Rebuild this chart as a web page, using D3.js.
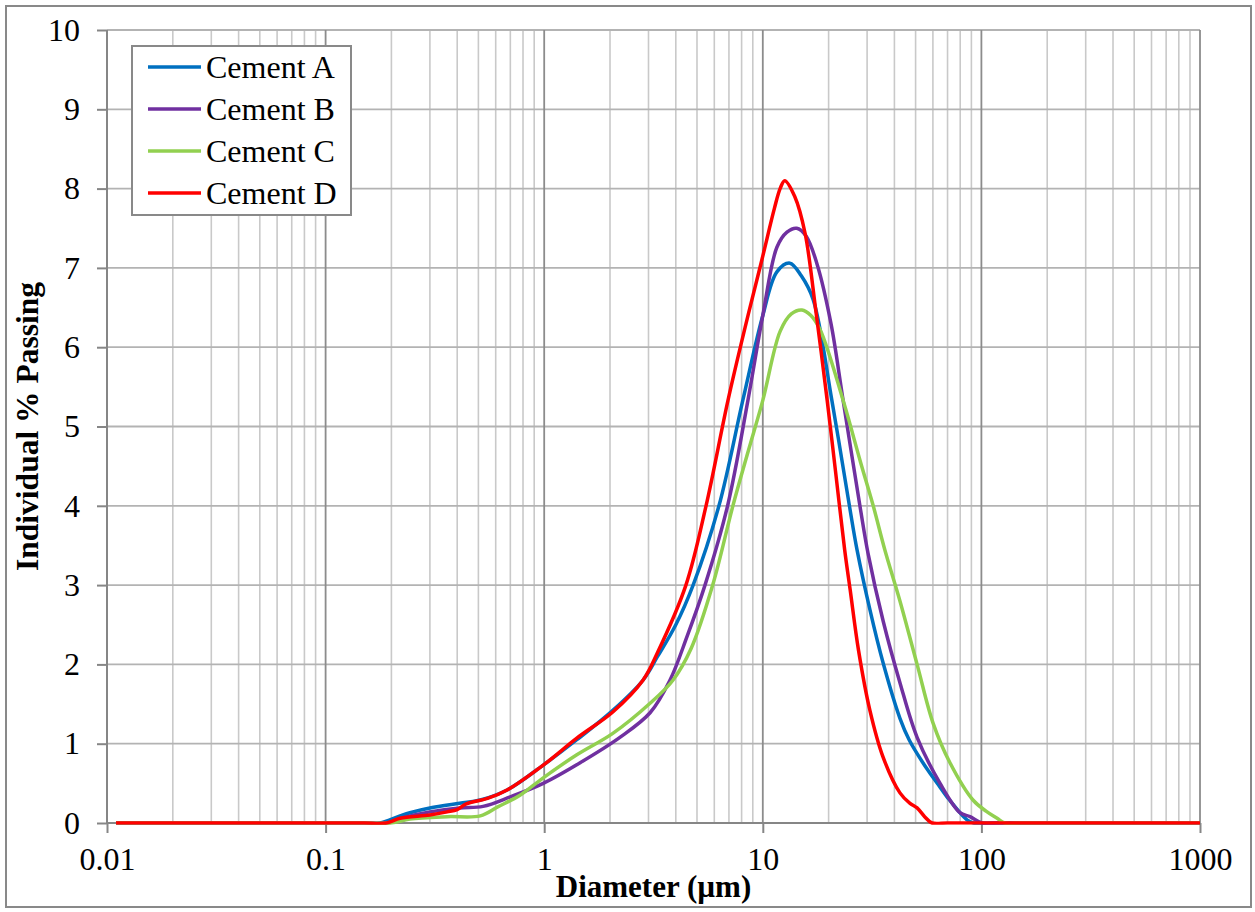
<!DOCTYPE html>
<html><head><meta charset="utf-8">
<script src="https://cdn.jsdelivr.net/npm/d3@7"></script>
<style>body{margin:0;background:#fff}svg{display:block}</style>
</head><body>
<svg id="c" width="1255" height="912"></svg>
<script>
// ---- data ----
const seriesNames = ["Cement A", "Cement B", "Cement C", "Cement D"];
const seriesColors = ["#0070C0", "#7030A0", "#92D050", "#FF0000"];

const diamA = [0.011, 0.02, 0.05, 0.1, 0.15, 0.177, 0.219, 0.243, 0.30, 0.41, 0.51, 0.68, 0.99, 1.41, 2.06, 2.83, 3.3, 4.0, 4.8, 6.3, 8.1, 10.0, 11.6, 13.3, 15.0, 17.0, 20.7, 24.9, 27.0, 30.9, 35.5, 42.4, 46.7, 54.0, 62.8, 69.6, 85.9, 92, 110, 200, 500, 1000];
const valA  = [0, 0, 0, 0, 0, 0, 0.09, 0.13, 0.19, 0.25, 0.29, 0.42, 0.73, 1.05, 1.42, 1.8, 2.1, 2.5, 3.0, 4.0, 5.33, 6.4, 6.95, 7.06, 6.9, 6.6, 5.33, 4.0, 3.44, 2.69, 2.02, 1.32, 1.05, 0.76, 0.5, 0.33, 0.04, 0, 0, 0, 0, 0];

const diamB = [0.011, 0.02, 0.05, 0.1, 0.15, 0.19, 0.236, 0.30, 0.41, 0.525, 0.70, 0.99, 1.46, 2.22, 3.05, 3.76, 4.5, 5.44, 6.9, 8.55, 10.0, 11.6, 12.9, 14.3, 15.8, 17.7, 20.5, 23.3, 28.0, 30.3, 35.5, 42.4, 50.8, 64.7, 79.8, 88.7, 100.6, 120, 200, 500, 1000];
const valB  = [0, 0, 0, 0, 0, 0, 0.08, 0.14, 0.19, 0.21, 0.33, 0.5, 0.76, 1.08, 1.39, 1.8, 2.35, 3.0, 4.0, 5.33, 6.4, 7.26, 7.45, 7.5, 7.4, 7.05, 6.3, 5.33, 3.95, 3.4, 2.55, 1.77, 1.08, 0.5, 0.13, 0.08, 0, 0, 0, 0, 0];

const diamC = [0.011, 0.02, 0.05, 0.1, 0.15, 0.2, 0.243, 0.36, 0.51, 0.61, 0.775, 0.99, 1.41, 2.06, 3.05, 3.88, 4.7, 5.9, 7.3, 8.6, 10.0, 12.0, 13.5, 15.1, 16.6, 18.3, 23.3, 28.0, 32.0, 36.2, 42.4, 50.8, 60.1, 71.8, 91.5, 105, 118, 128, 150, 250, 500, 1000];
const valC  = [0, 0, 0, 0, 0, 0, 0.05, 0.08, 0.09, 0.2, 0.35, 0.57, 0.86, 1.13, 1.51, 1.8, 2.2, 3.0, 4.0, 4.7, 5.33, 6.2, 6.42, 6.47, 6.4, 6.22, 5.33, 4.55, 4.0, 3.44, 2.8, 2.0, 1.26, 0.76, 0.29, 0.15, 0.06, 0, 0, 0, 0, 0];

const diamD = [0.011, 0.02, 0.05, 0.1, 0.15, 0.19, 0.219, 0.30, 0.36, 0.40, 0.44, 0.55, 0.68, 0.99, 1.41, 2.06, 2.83, 3.3, 4.45, 5.5, 6.93, 8.3, 9.9, 11.3, 12.0, 12.6, 14.0, 15.6, 17.5, 19.7, 21.5, 23.7, 25.1, 27.4, 30.9, 35.5, 42.4, 47.0, 50.8, 55, 59.4, 70, 100, 200, 500, 1000];
const valD  = [0, 0, 0, 0, 0, 0, 0.06, 0.10, 0.14, 0.17, 0.24, 0.31, 0.42, 0.73, 1.07, 1.4, 1.8, 2.15, 3.0, 4.0, 5.33, 6.25, 7.1, 7.75, 8.0, 8.1, 7.9, 7.44, 6.45, 5.33, 4.44, 3.44, 2.94, 2.18, 1.42, 0.83, 0.38, 0.25, 0.19, 0.08, 0, 0, 0, 0, 0, 0];

const xTickValues = [0.01, 0.1, 1, 10, 100, 1000];
const xTickLabels = ["0.01", "0.1", "1", "10", "100", "1000"];
const yTickValues = [0, 1, 2, 3, 4, 5, 6, 7, 8, 9, 10];
const xTitle = "Diameter (µm)";
const yTitle = "Individual % Passing";

// ---- drawing ----
const svg = d3.select("#c");
const L = 107, R = 1200, T = 30, B = 823;
const x = d3.scaleLog().domain([0.01, 1000]).range([L, R]);
const y = d3.scaleLinear().domain([0, 10]).range([B, T]);
const font = "'Liberation Serif', 'Times New Roman', serif";

svg.append("rect").attr("width", 1255).attr("height", 912).attr("fill", "#fff");
svg.append("rect").attr("x", 6).attr("y", 6).attr("width", 1245).attr("height", 901)
  .attr("fill", "none").attr("stroke", "#898989").attr("stroke-width", 2);

const defs = svg.append("defs");
defs.append("clipPath").attr("id", "plotclip").append("rect")
  .attr("x", L - 5).attr("y", T - 5).attr("width", R - L + 10).attr("height", B - T + 6.8);

// minor vertical grid
const minor = [];
for (let e = -2; e < 3; e++) for (let m = 2; m <= 9; m++) minor.push(m * Math.pow(10, e));
svg.append("g").selectAll("line").data(minor).join("line")
  .attr("x1", d => x(d)).attr("x2", d => x(d)).attr("y1", T).attr("y2", B)
  .attr("stroke", "#c9c9c9").attr("stroke-width", 1.6);
// horizontal grid
svg.append("g").selectAll("line").data(yTickValues.slice(1)).join("line")
  .attr("x1", L).attr("x2", R).attr("y1", d => y(d)).attr("y2", d => y(d))
  .attr("stroke", "#b3b3b3").attr("stroke-width", 1.8);
// major vertical grid
svg.append("g").selectAll("line").data(xTickValues.slice(1)).join("line")
  .attr("x1", d => x(d)).attr("x2", d => x(d)).attr("y1", T).attr("y2", B)
  .attr("stroke", "#8c8c8c").attr("stroke-width", 1.8);

// axes
const yAxis = d3.axisLeft(y).tickValues(yTickValues).tickSize(10).tickPadding(17).tickFormat(d3.format("d"));
const gy = svg.append("g").attr("transform", `translate(${L},0)`).call(yAxis);
const xAxis = d3.axisBottom(x).tickValues(xTickValues).tickSize(10).tickPadding(14)
  .tickFormat((d, i) => xTickLabels[i]);
const gx = svg.append("g").attr("transform", `translate(0,${B})`).call(xAxis);
[gx, gy].forEach(g => {
  g.select(".domain").attr("stroke", "#868686").attr("stroke-width", 2);
  g.selectAll(".tick line").attr("stroke", "#868686").attr("stroke-width", 2);
  g.selectAll(".tick text").attr("font-family", font).attr("font-size", 32).attr("fill", "#000");
});
gy.select(".domain").attr("d", `M-0,${B}V${T}`);
gx.select(".domain").attr("d", `M${L},0H${R}`);

// titles
svg.append("text").attr("x", (L + R) / 2).attr("y", 897).attr("text-anchor", "middle")
  .attr("font-family", font).attr("font-weight", "bold").attr("font-size", 31).text(xTitle);
svg.append("text").attr("transform", `translate(38,${(T + B) / 2}) rotate(-90)`).attr("text-anchor", "middle")
  .attr("font-family", font).attr("font-weight", "bold").attr("font-size", 31.5).text(yTitle);

// series
const allD = [diamA, diamB, diamC, diamD];
const allV = [valA, valB, valC, valD];
const line = d3.line().x(p => x(p[0])).y(p => y(p[1])).curve(d3.curveCatmullRom.alpha(0.5));
const gs = svg.append("g").attr("clip-path", "url(#plotclip)");
allD.forEach((ds, i) => {
  const pts = ds.map((d, j) => [d, allV[i][j]]);
  gs.append("path").attr("d", line(pts)).attr("fill", "none")
    .attr("stroke", seriesColors[i]).attr("stroke-width", 3.5).attr("stroke-linejoin", "round");
});

// legend
const lg = svg.append("g");
lg.append("rect").attr("x", 132).attr("y", 46).attr("width", 219).attr("height", 169)
  .attr("fill", "#fff").attr("stroke", "#898989").attr("stroke-width", 2);
seriesNames.forEach((n, i) => {
  const ly = 67 + i * 42;
  lg.append("line").attr("x1", 148).attr("x2", 201).attr("y1", ly).attr("y2", ly)
    .attr("stroke", seriesColors[i]).attr("stroke-width", 3.5);
  lg.append("text").attr("x", 206).attr("y", ly + 11).attr("font-family", font)
    .attr("font-size", 32).text(n);
});
</script>
</body></html>
